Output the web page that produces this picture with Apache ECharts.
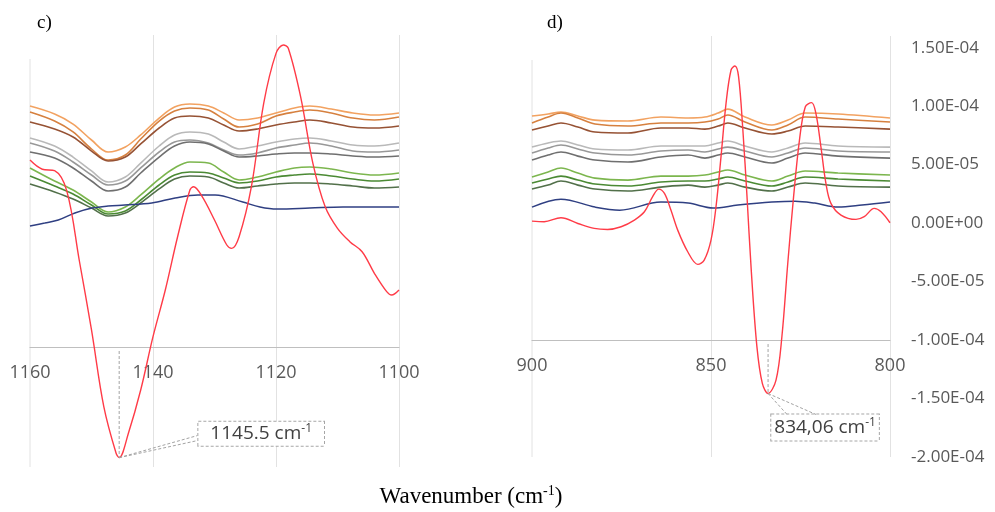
<!DOCTYPE html>
<html>
<head>
<meta charset="utf-8">
<script src="https://cdn.jsdelivr.net/npm/echarts@6/dist/echarts.min.js"></script>
<style>
  html, body { margin: 0; padding: 0; background: #ffffff; }
  #chart { width: 995px; height: 512px; }
</style>
</head>
<body>
<div id="chart"></div>
<script>
// ---------- Panel c): 1160 – 1100 cm-1 ----------
const waveC = [1160, 1156, 1153, 1150, 1147.3, 1144.5, 1142, 1139, 1136.5, 1134, 1131,
               1128.5, 1126, 1123, 1120, 1117, 1114.5, 1111, 1107.5, 1104, 1100];
const orange1C = [10.08e-5, 9.42e-5, 8.58e-5, 7.25e-5, 6.25e-5, 6.67e-5, 7.67e-5, 9.08e-5, 10.0e-5, 10.25e-5, 10.08e-5,
                  9.5e-5, 8.92e-5, 9.08e-5, 9.5e-5, 9.92e-5, 10.08e-5, 9.83e-5, 9.5e-5, 9.33e-5, 9.5e-5];
const orange2C = [9.58e-5, 8.83e-5, 7.92e-5, 6.5e-5, 5.58e-5, 6.0e-5, 7.33e-5, 8.83e-5, 9.67e-5, 9.92e-5, 9.75e-5,
                  9.0e-5, 8.33e-5, 8.58e-5, 9.25e-5, 9.58e-5, 9.75e-5, 9.5e-5, 9.08e-5, 8.92e-5, 9.17e-5];
const brownC   = [8.75e-5, 8.17e-5, 7.5e-5, 6.33e-5, 5.5e-5, 5.83e-5, 6.92e-5, 8.25e-5, 9.08e-5, 9.25e-5, 9.08e-5,
                  8.5e-5, 8.0e-5, 8.17e-5, 8.5e-5, 8.75e-5, 8.92e-5, 8.67e-5, 8.33e-5, 8.25e-5, 8.42e-5];
const grayLC   = [7.42e-5, 6.75e-5, 5.83e-5, 4.67e-5, 3.75e-5, 4.17e-5, 5.33e-5, 6.75e-5, 7.67e-5, 7.92e-5, 7.75e-5,
                  7.08e-5, 6.5e-5, 6.75e-5, 7.08e-5, 7.33e-5, 7.42e-5, 7.17e-5, 6.83e-5, 6.75e-5, 7.0e-5];
const grayMC   = [7.0e-5, 6.33e-5, 5.42e-5, 4.33e-5, 3.5e-5, 3.83e-5, 4.92e-5, 6.25e-5, 7.08e-5, 7.25e-5, 7.0e-5,
                  6.42e-5, 6.0e-5, 6.17e-5, 6.58e-5, 6.83e-5, 7.0e-5, 6.75e-5, 6.33e-5, 6.25e-5, 6.42e-5];
const grayDC   = [6.25e-5, 5.75e-5, 4.92e-5, 3.83e-5, 3.0e-5, 3.33e-5, 4.5e-5, 5.83e-5, 6.75e-5, 7.08e-5, 6.92e-5,
                  6.33e-5, 5.83e-5, 5.92e-5, 6.08e-5, 6.17e-5, 6.17e-5, 6.08e-5, 5.92e-5, 5.83e-5, 5.92e-5];
const greenLC  = [4.92e-5, 3.83e-5, 3.08e-5, 2.08e-5, 1.25e-5, 1.67e-5, 2.67e-5, 4.0e-5, 4.92e-5, 5.42e-5, 5.33e-5,
                  4.58e-5, 3.92e-5, 4.17e-5, 4.58e-5, 4.92e-5, 5.0e-5, 4.83e-5, 4.5e-5, 4.33e-5, 4.5e-5];
const greenMC  = [4.25e-5, 3.42e-5, 2.75e-5, 1.83e-5, 1.08e-5, 1.33e-5, 2.25e-5, 3.5e-5, 4.33e-5, 4.58e-5, 4.5e-5,
                  4.08e-5, 3.67e-5, 3.83e-5, 4.17e-5, 4.33e-5, 4.42e-5, 4.25e-5, 4.0e-5, 3.83e-5, 4.0e-5];
const greenDC  = [3.58e-5, 2.92e-5, 2.33e-5, 1.58e-5, 0.92e-5, 1.17e-5, 2.0e-5, 3.17e-5, 4.0e-5, 4.25e-5, 4.17e-5,
                  3.67e-5, 3.25e-5, 3.42e-5, 3.58e-5, 3.67e-5, 3.67e-5, 3.58e-5, 3.42e-5, 3.25e-5, 3.33e-5];
const blueWaveC = [1160, 1157.6, 1155.4, 1152.7, 1149.9, 1147.3, 1144.6, 1140.2, 1136.4, 1132.7, 1129.9,
                   1125.4, 1122.6, 1119.8, 1114.5, 1109.1, 1100];
const blueC     = [0.08e-5, 0.33e-5, 0.58e-5, 1.17e-5, 1.58e-5, 1.75e-5, 1.83e-5, 2.0e-5, 2.42e-5, 2.67e-5, 2.67e-5,
                   2.08e-5, 1.67e-5, 1.5e-5, 1.58e-5, 1.67e-5, 1.67e-5];
const redWaveC = [1160, 1158, 1156, 1154, 1152, 1150, 1148, 1146, 1145.5, 1144, 1142, 1140, 1138, 1136,
                  1134, 1133.4, 1132, 1130, 1128, 1127.2, 1126, 1124, 1122, 1120, 1118.8, 1118, 1116,
                  1114, 1112, 1110, 1108, 1106, 1104, 1102, 1101.2, 1100];
const redC = [5.58e-5, 4.81e-5, 4.69e-5, 2.97e-5, -2.75e-5, -8.58e-5, -14.97e-5, -18.86e-5, -19.22e-5,
              -17.19e-5, -13.58e-5, -9.14e-5, -5.25e-5, -0.81e-5, 3.08e-5, 3.36e-5, 2.53e-5, 0.58e-5,
              -1.5e-5, -1.78e-5, -0.81e-5, 3.36e-5, 10.31e-5, 14.47e-5, 15.17e-5, 14.89e-5, 10.86e-5,
              5.31e-5, 1.69e-5, -0.11e-5, -1.22e-5, -2.06e-5, -3.86e-5, -5.39e-5, -5.67e-5, -5.25e-5];
const dipC = 1145.5;

// ---------- Panel d): 900 – 800 cm-1 ----------
const waveD = [900, 895.5, 891.9, 887.2, 882.4, 873.2, 864, 856.4, 851.7, 848, 845.3, 840.5, 833, 828.5, 823.7, 814.5, 800];
const orange1D = [9.16e-5, 9.33e-5, 9.50e-5, 9.16e-5, 8.81e-5, 8.73e-5, 9.07e-5, 8.99e-5, 9.07e-5, 9.41e-5, 9.75e-5,
                  9.07e-5, 8.39e-5, 8.81e-5, 9.41e-5, 9.33e-5, 8.99e-5];
const orange2D = [8.56e-5, 9.07e-5, 9.41e-5, 8.99e-5, 8.47e-5, 8.30e-5, 8.56e-5, 8.56e-5, 8.64e-5, 8.90e-5, 9.24e-5,
                  8.64e-5, 7.96e-5, 8.39e-5, 9.07e-5, 8.90e-5, 8.64e-5];
const brownD   = [7.96e-5, 8.30e-5, 8.56e-5, 8.22e-5, 7.79e-5, 7.70e-5, 8.13e-5, 8.13e-5, 8.04e-5, 8.30e-5, 8.56e-5,
                  8.13e-5, 7.62e-5, 7.87e-5, 8.30e-5, 8.22e-5, 8.04e-5];
const grayLD   = [6.50e-5, 6.85e-5, 7.02e-5, 6.68e-5, 6.34e-5, 6.25e-5, 6.59e-5, 6.59e-5, 6.59e-5, 6.85e-5, 7.02e-5,
                  6.59e-5, 6.08e-5, 6.42e-5, 6.85e-5, 6.59e-5, 6.50e-5];
const grayMD   = [5.99e-5, 6.42e-5, 6.68e-5, 6.34e-5, 5.99e-5, 5.82e-5, 6.16e-5, 6.25e-5, 6.08e-5, 6.34e-5, 6.50e-5,
                  6.16e-5, 5.65e-5, 5.99e-5, 6.42e-5, 6.16e-5, 6.08e-5];
const grayDD   = [5.39e-5, 5.82e-5, 6.08e-5, 5.73e-5, 5.39e-5, 5.22e-5, 5.65e-5, 5.82e-5, 5.56e-5, 5.82e-5, 5.99e-5,
                  5.65e-5, 5.14e-5, 5.56e-5, 5.99e-5, 5.73e-5, 5.56e-5];
const greenLD  = [3.94e-5, 4.37e-5, 4.71e-5, 4.28e-5, 3.85e-5, 3.68e-5, 4.02e-5, 4.02e-5, 4.11e-5, 4.37e-5, 4.54e-5,
                  4.11e-5, 3.60e-5, 4.02e-5, 4.45e-5, 4.28e-5, 4.11e-5];
const greenMD  = [3.43e-5, 3.77e-5, 4.02e-5, 3.68e-5, 3.34e-5, 3.17e-5, 3.51e-5, 3.60e-5, 3.60e-5, 3.77e-5, 3.94e-5,
                  3.60e-5, 3.17e-5, 3.51e-5, 3.94e-5, 3.77e-5, 3.60e-5];
const greenDD  = [2.91e-5, 3.25e-5, 3.60e-5, 3.25e-5, 2.91e-5, 2.74e-5, 3.08e-5, 3.25e-5, 3.08e-5, 3.25e-5, 3.43e-5,
                  3.08e-5, 2.74e-5, 3.08e-5, 3.43e-5, 3.17e-5, 3.08e-5];
const blueWaveD = [900, 891.9, 882.4, 875.5, 864, 856.4, 849.4, 842.5, 833, 826.5, 821, 814.5, 807.8, 800];
const blueD     = [1.37e-5, 2.05e-5, 1.37e-5, 1.11e-5, 1.80e-5, 1.71e-5, 1.29e-5, 1.54e-5, 1.80e-5, 1.88e-5,
                   1.71e-5, 1.37e-5, 1.54e-5, 1.80e-5];
const redWaveD = [900, 896.6, 891.9, 887.2, 882.6, 878.9, 875.1, 871.4, 868.6, 866.3, 864.6, 863.0, 861.2,
                  859.3, 856.5, 853.7, 851.9, 850.0, 848.6, 847.2, 845.8, 844.4, 843.3, 842.3, 841.1,
                  839.94, 838.76, 837.17, 835.66, 834.06, 831.84, 830.2, 828.56, 826.93, 825.29, 823.65,
                  821.9, 820.7, 819.3, 817.9, 816.5, 813.7, 809.5, 807.2, 804.4, 802.5, 800];
const redD = [0.17e-5, 0.12e-5, 0.46e-5, -0.03e-5, -0.45e-5, -0.54e-5, -0.31e-5, 0.26e-5, 0.97e-5, 2.26e-5,
              2.91e-5, 2.54e-5, 1.12e-5, -0.60e-5, -2.45e-5, -3.53e-5, -3.16e-5, -1.45e-5, 1.40e-5, 5.68e-5,
              10.24e-5, 13.09e-5, 13.43e-5, 12.52e-5, 7.96e-5, 2.26e-5, -4.02e-5, -10.58e-5, -13.71e-5,
              -14.57e-5, -13.43e-5, -9.72e-5, -3.45e-5, 2.26e-5, 7.10e-5, 9.95e-5, 10.30e-5, 9.38e-5,
              6.53e-5, 3.40e-5, 1.69e-5, 0.69e-5, 0.32e-5, 0.55e-5, 1.26e-5, 0.97e-5, 0.03e-5];
const dipD = 834.06;

// Shared value axis
const yMin = -2e-4, yMax = 1.6e-4, yStep = 5e-5, yCross = -1e-4;
const xTicksC = { min: 1100, max: 1160, interval: 20 };
const xTicksD = { min: 800, max: 900, interval: 50 };

// ---------- styling ----------
const uiFont = '"Open Sans", "Noto Sans", sans-serif';
const serifFont = '"Liberation Serif", "DejaVu Serif", serif';
const labelGrey = '#595959';
const gridGrey = '#e2e2e2';
const lineStyles = [
  { key: 'orange1', color: '#f2a261' },
  { key: 'orange2', color: '#d6803f' },
  { key: 'brown',   color: '#965234' },
  { key: 'grayL',   color: '#b9b9b9' },
  { key: 'grayM',   color: '#989898' },
  { key: 'grayD',   color: '#6f6f6f' },
  { key: 'greenL',  color: '#7cb64e' },
  { key: 'greenM',  color: '#4b8a34' },
  { key: 'greenD',  color: '#52704a' }
];
const blueColor = '#2f3f82';
const redColor = '#ff3b47';

const gridC = { left: 30, top: 35, width: 369, height: 432 };
const gridD = { left: 532, top: 36, width: 358, height: 421 };
const edgeLineDrop = 24;   // the outer (high wavenumber) edge line starts a little lower

function zip(xs, ys) { return xs.map((x, i) => [x, ys[i]]); }

function sciLabel(v) {
  const k = v / yStep;
  if (Math.abs(k - Math.round(k)) > 1e-6) return '';
  if (Math.abs(v) < 1e-12) return '0.00E+00';
  const parts = v.toExponential(2).split('e');
  const sign = parts[1][0] === '-' ? '-' : '+';
  const exp = parts[1].replace(/[+-]/, '').padStart(2, '0');
  return parts[0] + 'E' + sign + exp;
}

// x axis sits at y = -1E-04, so shift it up from the bottom of each grid
function axisOffset(grid) {
  return -grid.height * (yCross - yMin) / (yMax - yMin);
}

const panelC = [orange1C, orange2C, brownC, grayLC, grayMC, grayDC, greenLC, greenMC, greenDC];
const panelD = [orange1D, orange2D, brownD, grayLD, grayMD, grayDD, greenLD, greenMD, greenDD];

function spectraSeries(values, waves, idx) {
  return values.map((ys, i) => ({
    name: lineStyles[i].key,
    type: 'line',
    xAxisIndex: idx, yAxisIndex: idx,
    data: zip(waves, ys),
    smooth: 0.35,
    showSymbol: false,
    silent: true,
    lineStyle: { color: lineStyles[i].color, width: 1.6 },
    z: 2
  }));
}

function dipLabel(text, offset, padding) {
  return {
    show: true,
    position: 'inside',
    offset: offset,
    formatter: text + ' cm{sup|-1}',
    color: '#404040',
    fontFamily: uiFont,
    fontSize: 19,
    lineHeight: 22,
    padding: padding,
    borderColor: '#a6a6a6',
    borderWidth: 1,
    borderType: [3, 2],
    backgroundColor: '#ffffff',
    rich: {
      sup: { fontSize: 12, lineHeight: 14, verticalAlign: 'top', color: '#404040', fontFamily: uiFont }
    }
  };
}

const dipValC = redC[redWaveC.indexOf(dipC)];
const dipValD = redD[redWaveD.indexOf(dipD)];

function xAxisFor(idx, ticks, grid) {
  return {
    gridIndex: idx, type: 'value', inverse: true,
    min: ticks.min, max: ticks.max, interval: ticks.interval,
    offset: axisOffset(grid),
    axisLine: { onZero: false, lineStyle: { color: '#bfbfbf', width: 1.2 } },
    axisTick: { show: false },
    axisLabel: { color: labelGrey, fontFamily: uiFont, fontSize: 18, margin: 17, formatter: v => String(v) },
    splitLine: { show: true, showMaxLine: false, lineStyle: { color: gridGrey, width: 1 } }
  };
}

const option = {
  animation: false,
  backgroundColor: '#ffffff',
  grid: [
    Object.assign({}, gridC, { containLabel: false }),
    Object.assign({}, gridD, { containLabel: false })
  ],
  xAxis: [xAxisFor(0, xTicksC, gridC), xAxisFor(1, xTicksD, gridD)],
  yAxis: [
    { gridIndex: 0, type: 'value', min: yMin, max: yMax, interval: yStep, show: false },
    {
      gridIndex: 1, type: 'value', position: 'right',
      min: yMin, max: yMax, interval: yStep,
      axisLine: { show: false }, axisTick: { show: false }, splitLine: { show: false },
      axisLabel: {
        color: labelGrey, fontFamily: uiFont, fontSize: 17, margin: 21,
        showMaxLabel: false, formatter: sciLabel
      }
    }
  ],
  series: [].concat(
    spectraSeries(panelC, waveC, 0),
    [{
      name: 'blueC', type: 'line', xAxisIndex: 0, yAxisIndex: 0,
      data: zip(blueWaveC, blueC), smooth: 0.35, showSymbol: false, silent: true,
      lineStyle: { color: blueColor, width: 1.5 }, z: 2
    }, {
      name: 'diffC', type: 'line', xAxisIndex: 0, yAxisIndex: 0,
      data: zip(redWaveC, redC), smooth: 0.35, showSymbol: false, silent: true,
      lineStyle: { color: redColor, width: 1.4 }, z: 3,
      markPoint: {
        silent: true, symbol: 'circle', symbolSize: 0, animation: false,
        data: [{ coord: [dipC, dipValC], label: dipLabel(String(dipC), [142, -24], [1, 12, 1, 12]) }]
      }
    }],
    spectraSeries(panelD, waveD, 1),
    [{
      name: 'blueD', type: 'line', xAxisIndex: 1, yAxisIndex: 1,
      data: zip(blueWaveD, blueD), smooth: 0.35, showSymbol: false, silent: true,
      lineStyle: { color: blueColor, width: 1.5 }, z: 2
    }, {
      name: 'diffD', type: 'line', xAxisIndex: 1, yAxisIndex: 1,
      data: zip(redWaveD, redD), smooth: 0.35, showSymbol: false, silent: true,
      lineStyle: { color: redColor, width: 1.4 }, z: 3,
      markPoint: {
        silent: true, symbol: 'circle', symbolSize: 0, animation: false,
        data: [{ coord: [dipD, dipValD], label: dipLabel(dipD.toFixed(2).replace('.', ','), [57, 34], [2, 3, 2, 3]) }]
      }
    }]
  )
};

const chart = echarts.init(document.getElementById('chart'), null, { renderer: 'canvas' });
chart.setOption(option);

// Drop lines and leader lines for the two marked minima
const leaderStyle = { stroke: '#a3a3a3', lineWidth: 1, lineDash: [3, 2] };
function dipGraphics(gridIndex, wave, value, leaders) {
  const p = chart.convertToPixel({ gridIndex: gridIndex }, [wave, value]);
  const a = chart.convertToPixel({ gridIndex: gridIndex }, [wave, yCross]);
  const items = [{
    type: 'line', silent: true, z: 10,
    shape: { x1: p[0], y1: a[1] + 4, x2: p[0], y2: p[1] },
    style: leaderStyle
  }];
  leaders.forEach(d => items.push({
    type: 'line', silent: true, z: 10,
    shape: { x1: p[0], y1: p[1], x2: p[0] + d[0], y2: p[1] + d[1] },
    style: leaderStyle
  }));
  return items;
}

// Left edge line of each panel (drawn at the highest wavenumber)
function edgeLine(gridIndex, wave) {
  const top = chart.convertToPixel({ gridIndex: gridIndex }, [wave, yMax]);
  const bottom = chart.convertToPixel({ gridIndex: gridIndex }, [wave, yMin]);
  return {
    type: 'line', silent: true, z: 0,
    shape: { x1: top[0], y1: top[1] + edgeLineDrop, x2: bottom[0], y2: bottom[1] },
    style: { stroke: gridGrey, lineWidth: 1 }
  };
}

const supRich = { sup: { fontSize: 14, lineHeight: 15, verticalAlign: 'top', fill: '#000000', fontFamily: serifFont } };

chart.setOption({
  graphic: [].concat(
    [edgeLine(0, xTicksC.max), edgeLine(1, xTicksD.max)],
    dipGraphics(0, dipC, dipValC, [[78, -22], [78, -17]]),
    dipGraphics(1, dipD, dipValD, [[19, 21], [48, 21]]),
    [
      { type: 'text', silent: true, left: 37, top: 14,
        style: { text: 'c)', fill: '#000000', font: '19px ' + serifFont } },
      { type: 'text', silent: true, left: 547, top: 14,
        style: { text: 'd)', fill: '#000000', font: '19px ' + serifFont } },
      { type: 'text', silent: true, x: 471, y: 497,
        style: {
          text: 'Wavenumber (cm{sup|-1})', fill: '#000000',
          fontSize: 23, fontFamily: serifFont, lineHeight: 26,
          align: 'center', verticalAlign: 'middle', rich: supRich
        } }
    ]
  )
});
</script>
</body>
</html>
